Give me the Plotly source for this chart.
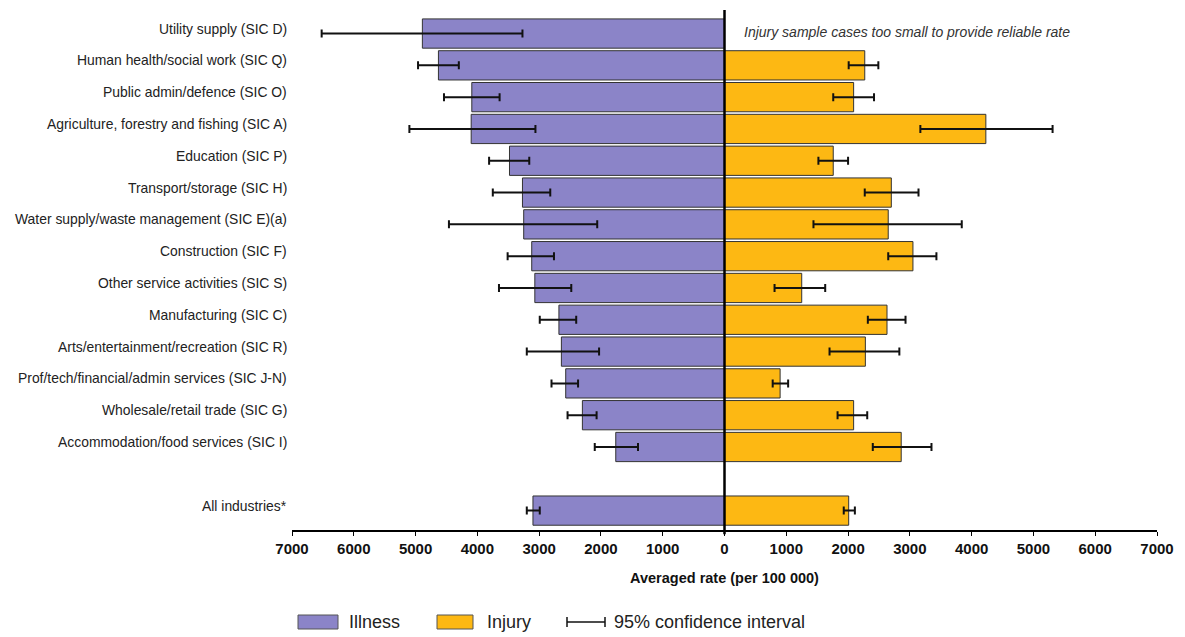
import plotly.graph_objects as go

categories = [
    "Utility supply (SIC D)",
    "Human health/social work (SIC Q)",
    "Public admin/defence (SIC O)",
    "Agriculture, forestry and fishing (SIC A)",
    "Education (SIC P)",
    "Transport/storage (SIC H)",
    "Water supply/waste management (SIC E)(a)",
    "Construction (SIC F)",
    "Other service activities (SIC S)",
    "Manufacturing (SIC C)",
    "Arts/entertainment/recreation (SIC R)",
    "Prof/tech/financial/admin services (SIC J-N)",
    "Wholesale/retail trade (SIC G)",
    "Accommodation/food services (SIC I)",
    " ",
    "All industries*",
]

illness_rate = [4890, 4630, 4090, 4100, 3480, 3270, 3250, 3120, 3070, 2680, 2640, 2570, 2300, 1760, None, 3100]
illness_lo = [3270, 4300, 3640, 3060, 3160, 2820, 2060, 2760, 2480, 2400, 2030, 2370, 2070, 1400, None, 2990]
illness_hi = [6520, 4960, 4540, 5100, 3810, 3750, 4460, 3510, 3650, 2990, 3200, 2800, 2540, 2100, None, 3200]

injury_rate = [None, 2270, 2090, 4230, 1760, 2700, 2650, 3050, 1250, 2630, 2280, 900, 2090, 2860, None, 2010]
injury_lo = [None, 2010, 1760, 3170, 1520, 2270, 1440, 2650, 810, 2320, 1700, 780, 1830, 2400, None, 1930]
injury_hi = [None, 2490, 2420, 5310, 2000, 3140, 3840, 3430, 1630, 2930, 2830, 1030, 2310, 3350, None, 2110]

tick_values = [-7000, -6000, -5000, -4000, -3000, -2000, -1000, 0, 1000, 2000, 3000, 4000, 5000, 6000, 7000]
tick_labels = [str(abs(v)) for v in tick_values]

ILL_COLOR = "#8b84c8"
INJ_COLOR = "#fdb813"
OUTLINE = "#333333"


def neg(v):
    return None if v is None else -v


ill_x = [neg(v) for v in illness_rate]
# illness plotted on negative side: lower plotted bound is -hi, upper is -lo
ill_err_plus = [None if r is None else r - lo for r, lo in zip(illness_rate, illness_lo)]
ill_err_minus = [None if r is None else hi - r for r, hi in zip(illness_rate, illness_hi)]
inj_err_plus = [None if r is None else hi - r for r, hi in zip(injury_rate, injury_hi)]
inj_err_minus = [None if r is None else r - lo for r, lo in zip(injury_rate, injury_lo)]

fig = go.Figure()
fig.add_trace(go.Bar(
    y=categories, x=ill_x, orientation="h", name="Illness",
    marker=dict(color=ILL_COLOR, line=dict(color=OUTLINE, width=1)),
    error_x=dict(type="data", array=ill_err_plus, arrayminus=ill_err_minus,
                 symmetric=False, color="#111111", thickness=2, width=4),
    showlegend=False,
))
fig.add_trace(go.Bar(
    y=categories, x=injury_rate, orientation="h", name="Injury",
    marker=dict(color=INJ_COLOR, line=dict(color=OUTLINE, width=1)),
    error_x=dict(type="data", array=inj_err_plus, arrayminus=inj_err_minus,
                 symmetric=False, color="#111111", thickness=2, width=4),
    showlegend=False,
))

# page body has an 8px margin, so figure coordinates are page coordinates minus 8
OFF = 8
W, H = 1185 - OFF, 637 - OFF
PL, PR, PT, PB = 292 - OFF, 1157 - OFF, 10 - OFF, 530 - OFF


def px_x(p):
    return (p - OFF - PL) / (PR - PL)


def px_y(p):
    return (PB - (p - OFF)) / (PB - PT)


shapes = [
    # zero line
    dict(type="line", xref="x", yref="paper", x0=0, x1=0, y0=-0.008, y1=1,
         line=dict(color="#000000", width=2.5)),
    # legend: illness box
    dict(type="rect", xref="paper", yref="paper", x0=px_x(298), x1=px_x(338),
         y0=px_y(629), y1=px_y(615), fillcolor=ILL_COLOR, line=dict(color="#555555", width=1)),
    # legend: injury box
    dict(type="rect", xref="paper", yref="paper", x0=px_x(437), x1=px_x(473),
         y0=px_y(629), y1=px_y(615), fillcolor=INJ_COLOR, line=dict(color="#555555", width=1)),
    # legend: CI symbol
    dict(type="line", xref="paper", yref="paper", x0=px_x(567), x1=px_x(605),
         y0=px_y(622), y1=px_y(622), line=dict(color="#111111", width=1.5)),
    dict(type="line", xref="paper", yref="paper", x0=px_x(567), x1=px_x(567),
         y0=px_y(617), y1=px_y(627), line=dict(color="#111111", width=1.5)),
    dict(type="line", xref="paper", yref="paper", x0=px_x(605), x1=px_x(605),
         y0=px_y(617), y1=px_y(627), line=dict(color="#111111", width=1.5)),
]

legend_font = dict(family="Liberation Sans Narrow, Arial Narrow, sans-serif", size=18, color="#222222")
annotations = [
    dict(x=px_x(347), y=px_y(622), xref="paper", yref="paper", text="Illness",
         showarrow=False, xanchor="left", yanchor="middle", font=legend_font),
    dict(x=px_x(485), y=px_y(622), xref="paper", yref="paper", text="Injury",
         showarrow=False, xanchor="left", yanchor="middle", font=legend_font),
    dict(x=px_x(612), y=px_y(622), xref="paper", yref="paper", text="95% confidence interval",
         showarrow=False, xanchor="left", yanchor="middle", font=legend_font),
    dict(x=280, y=categories[0], xref="x", yref="y",
         text="<i>Injury sample cases too small to provide reliable rate</i>",
         showarrow=False, xanchor="left", yanchor="middle", yshift=2,
         font=dict(family="Liberation Sans, Arial, sans-serif", size=14, color="#333333")),
]

# category labels (sit slightly above bar centres, as in the original)
label_font = dict(family="Liberation Sans, Arial, sans-serif", size=13.9, color="#222222")
for cat in categories:
    if cat.strip():
        annotations.append(dict(
            x=0, y=cat, xref="paper", yref="y", text=cat, showarrow=False,
            xanchor="right", yanchor="middle", xshift=-3, yshift=5, font=label_font))

fig.update_layout(
    width=W, height=H,
    margin=dict(l=PL, r=W - PR, t=PT, b=H - PB, autoexpand=False),
    paper_bgcolor="white", plot_bgcolor="white",
    barmode="overlay", bargap=0.08,
    shapes=shapes, annotations=annotations,
    showlegend=False,
    font=dict(family="Liberation Sans, Arial, sans-serif", color="#222222"),
)
fig.update_xaxes(
    range=[-7000, 7000], tickvals=tick_values, ticktext=tick_labels,
    showgrid=False, zeroline=False, showline=True, linecolor="#000000", linewidth=1.5,
    ticks="outside", ticklen=4, tickcolor="#000000", tickwidth=1,
    tickfont=dict(family="Liberation Sans, Arial, sans-serif", size=15, color="#111111", weight="bold"),
    title=dict(text="<b>Averaged rate (per 100 000)</b>", standoff=17,
               font=dict(family="Liberation Sans, Arial, sans-serif", size=14.5, color="#111111")),
)
fig.update_yaxes(
    categoryorder="array", categoryarray=categories,
    range=[15.61, -0.74], showgrid=False, zeroline=False, showline=False,
    ticks="", showticklabels=False,
)

fig.write_html("out.html")
